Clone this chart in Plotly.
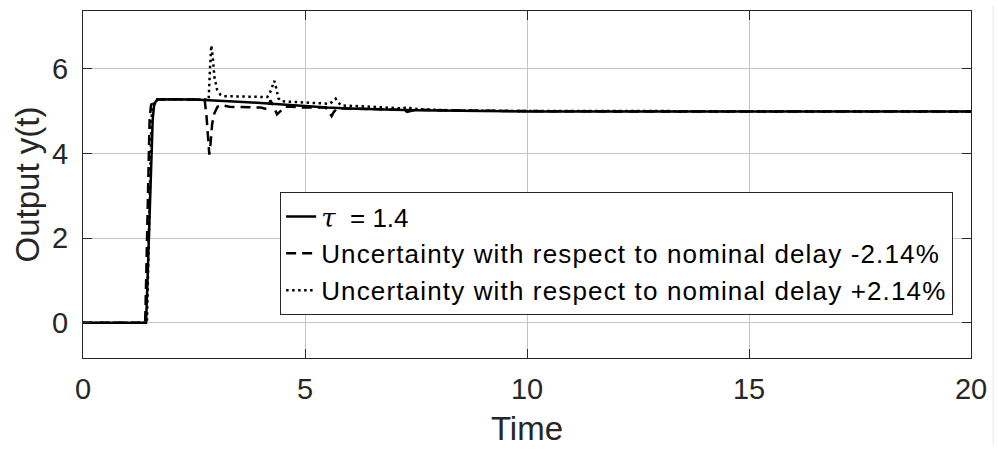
import plotly.graph_objects as go

# ---- data ----
t_nom = [0, 1.42, 1.45, 1.48, 1.51, 1.54, 1.57, 1.60, 1.64, 1.70, 2.0, 2.5, 3.0, 3.5, 4.0,
         4.5, 5.0, 5.5, 6.0, 6.5, 7.0, 7.5, 8.0, 8.5, 9.0, 10, 12, 15, 20]
y_nom = [0, 0, 0.9, 2.0, 3.1, 4.1, 4.8, 5.12, 5.23, 5.27, 5.28, 5.27, 5.25, 5.22, 5.19,
         5.15, 5.11, 5.08, 5.06, 5.04, 5.03, 5.02, 5.01, 5.0, 5.0, 4.99, 4.99, 4.99, 4.99]

t_minus = [0, 1.40, 1.42, 1.44, 1.46, 1.48, 1.50, 1.53, 1.57, 1.63, 2.0, 2.5, 2.74, 2.78,
           2.82, 2.845, 2.87, 2.91, 2.96, 3.03, 3.12, 3.3, 4.0, 4.16, 4.22, 4.30, 4.37,
           4.45, 4.55, 4.7, 5.0, 5.47, 5.55, 5.60, 5.65, 5.72, 5.85, 6.3, 7.0, 7.22, 7.3,
           7.38, 7.5, 8.0, 8.5, 9.5, 12, 20]
y_minus = [0, 0, 0.9, 2.0, 3.1, 4.1, 4.8, 5.12, 5.23, 5.27, 5.28, 5.27, 5.26, 4.9,
           4.2, 3.97, 4.2, 4.7, 4.95, 5.1, 5.14, 5.1, 5.08, 5.04, 5.25, 5.1, 4.92,
           5.0, 5.1, 5.1, 5.08, 5.08, 4.95, 4.88, 4.98, 5.05, 5.06, 5.05, 5.04, 5.03, 4.98,
           5.0, 5.03, 5.02, 5.01, 5.0, 4.99, 4.99]

t_plus = [0, 1.44, 1.46, 1.48, 1.50, 1.52, 1.54, 1.57, 1.61, 1.67, 2.0, 2.5, 2.83, 2.86,
          2.89, 2.92, 2.96, 3.02, 3.10, 3.16, 4.15, 4.20, 4.26, 4.31, 4.35, 4.40, 4.47,
          5.0, 5.55, 5.63, 5.69, 5.75, 5.82, 6.5, 7.0, 7.2, 7.3, 7.4, 7.6, 8.5, 10, 20]
y_plus = [0, 0, 0.9, 2.0, 3.1, 4.1, 4.8, 5.12, 5.23, 5.27, 5.28, 5.27, 5.27, 6.0,
          6.55, 6.3, 5.8, 5.5, 5.38, 5.35, 5.33, 5.4, 5.6, 5.71, 5.55, 5.3, 5.23,
          5.2, 5.17, 5.23, 5.29, 5.2, 5.13, 5.1, 5.07, 5.06, 5.09, 5.06, 5.04, 5.01, 5.0, 4.99]

x_ticks = [0, 5, 10, 15, 20]
y_ticks = [0, 2, 4, 6]

SP = '<span style="letter-spacing:1.15px">{}</span>'
names = [
    '<span style="font-family:DejaVu Serif"><i>τ</i></span>\u00a0\u00a0= 1.4',
    SP.format('Uncertainty with respect to nominal delay -2.14%'),
    SP.format('Uncertainty with respect to nominal delay +2.14%'),
]

INK = "#262626"
FONT = "Liberation Sans, Arial, sans-serif"

fig = go.Figure()
fig.add_trace(go.Scatter(x=t_nom, y=y_nom, mode="lines", name=names[0],
                         line=dict(color="black", width=2.5)))
fig.add_trace(go.Scatter(x=t_minus, y=y_minus, mode="lines", name=names[1],
                         line=dict(color="black", width=2.5, dash="10px,6px")))
fig.add_trace(go.Scatter(x=t_plus, y=y_plus, mode="lines", name=names[2],
                         line=dict(color="black", width=2.5, dash="2.5px,3.5px")))

axis_common = dict(
    showline=True, linecolor=INK, linewidth=1, mirror="ticks",
    ticks="inside", ticklen=9, tickcolor=INK, tickwidth=1,
    showgrid=True, gridcolor="#c4c4c4", gridwidth=1,
    zeroline=False, tickfont=dict(family=FONT, size=29, color=INK),
)

fig.update_xaxes(range=[0, 20], tickvals=x_ticks, ticklabelstandoff=5,
                 title=dict(text="Time", font=dict(family=FONT, size=33, color=INK), standoff=13),
                 **axis_common)
fig.update_yaxes(range=[-0.83, 7.36], tickvals=y_ticks, ticklabelstandoff=8,
                 title=dict(text="Output y(t)", font=dict(family=FONT, size=33, color=INK), standoff=2),
                 **axis_common)

fig.add_shape(type="line", xref="paper", yref="paper", x0=1.025, x1=1.025, y0=-0.25, y1=1.016,
              line=dict(color="#e6e6e6", width=1))

fig.update_layout(
    width=999, height=450,
    margin=dict(l=83, r=28, t=11, b=92, autoexpand=False),
    plot_bgcolor="white", paper_bgcolor="white",
    font=dict(family=FONT, color=INK),
    legend=dict(x=0.222, y=0.478, xanchor="left", yanchor="top",
                bgcolor="white", bordercolor=INK, borderwidth=1,
                font=dict(family=FONT, size=26, color="black"),
                itemwidth=30, tracegroupgap=0),
    showlegend=True,
)

fig.write_html("out.html")
